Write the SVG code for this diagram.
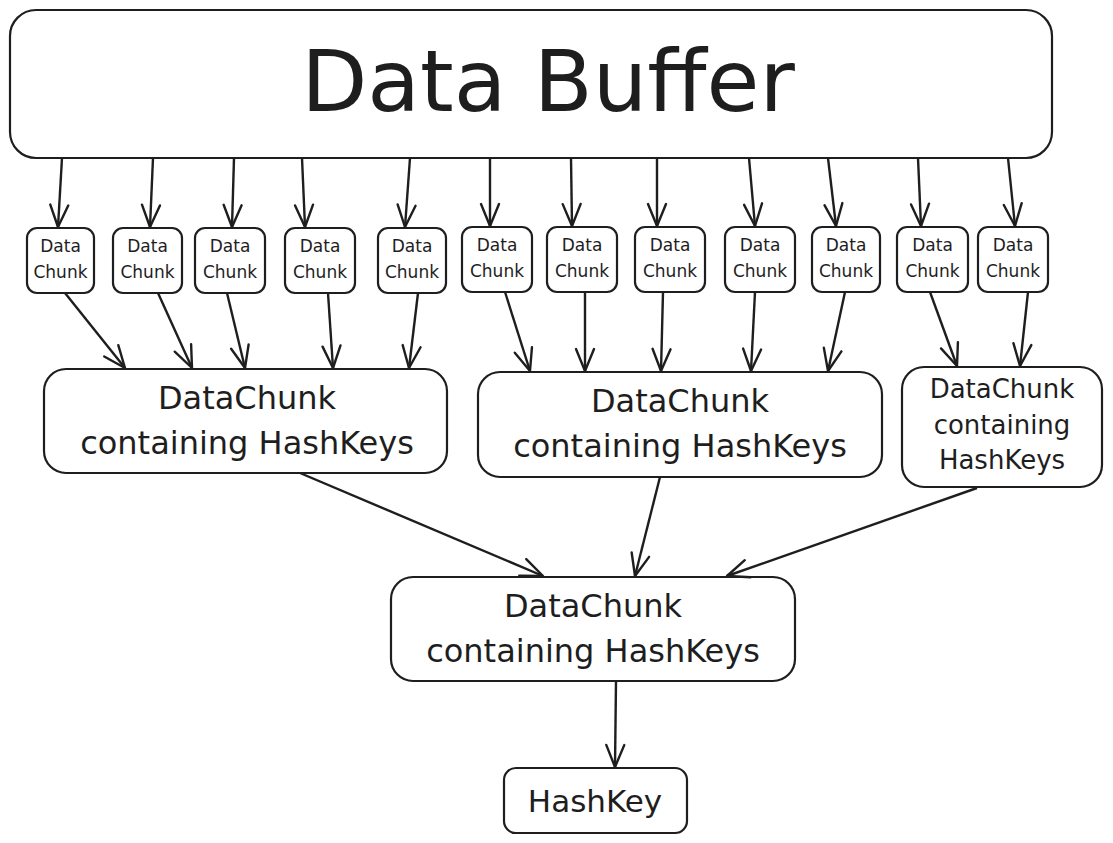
<svg xmlns="http://www.w3.org/2000/svg" width="1113" height="843" viewBox="0 0 1113 843">
<style>
.box{fill:#fff;stroke:#1e1e1e;stroke-width:2.2}
.t{font-family:"DejaVu Sans",sans-serif;fill:#1e1e1e;text-anchor:middle}
.s{font-size:17px}
.m{font-size:32px}
.c{font-size:26px}
.e{stroke:#1e1e1e;stroke-width:2.4;fill:none;marker-end:url(#ah)}
</style>
<defs>
<marker id="ah" markerUnits="userSpaceOnUse" markerWidth="30" markerHeight="24" refX="22" refY="10" orient="auto" viewBox="-2 -2 30 24">
<path d="M0,1 L22,10 L0,19" fill="none" stroke="#1e1e1e" stroke-width="2.4" stroke-linecap="round" stroke-linejoin="round"/>
</marker>
</defs>
<rect width="1113" height="843" fill="#fff"/>
<g id="buffer"><rect class="box" x="10" y="10" width="1042" height="148" rx="26"/><text class="t" x="548" y="111" font-size="86">Data Buffer</text></g>
<g id="chunk1"><rect class="box" x="27" y="228" width="67" height="65" rx="10"/><text class="t s" x="60.5" y="252">Data</text><text class="t s" x="60.5" y="278">Chunk</text></g>
<g id="chunk2"><rect class="box" x="113" y="228" width="69" height="65" rx="10"/><text class="t s" x="147.5" y="252">Data</text><text class="t s" x="147.5" y="278">Chunk</text></g>
<g id="chunk3"><rect class="box" x="195" y="228" width="70" height="65" rx="10"/><text class="t s" x="230" y="252">Data</text><text class="t s" x="230" y="278">Chunk</text></g>
<g id="chunk4"><rect class="box" x="285" y="228" width="70" height="65" rx="10"/><text class="t s" x="320" y="252">Data</text><text class="t s" x="320" y="278">Chunk</text></g>
<g id="chunk5"><rect class="box" x="378" y="228" width="68" height="65" rx="10"/><text class="t s" x="412" y="252">Data</text><text class="t s" x="412" y="278">Chunk</text></g>
<g id="chunk6"><rect class="box" x="462" y="227" width="70" height="65" rx="10"/><text class="t s" x="497" y="251">Data</text><text class="t s" x="497" y="277">Chunk</text></g>
<g id="chunk7"><rect class="box" x="547" y="227" width="70" height="65" rx="10"/><text class="t s" x="582" y="251">Data</text><text class="t s" x="582" y="277">Chunk</text></g>
<g id="chunk8"><rect class="box" x="635" y="227" width="70" height="65" rx="10"/><text class="t s" x="670" y="251">Data</text><text class="t s" x="670" y="277">Chunk</text></g>
<g id="chunk9"><rect class="box" x="725" y="227" width="70" height="65" rx="10"/><text class="t s" x="760" y="251">Data</text><text class="t s" x="760" y="277">Chunk</text></g>
<g id="chunk10"><rect class="box" x="812" y="227" width="68" height="65" rx="10"/><text class="t s" x="846" y="251">Data</text><text class="t s" x="846" y="277">Chunk</text></g>
<g id="chunk11"><rect class="box" x="897" y="227" width="71" height="65" rx="10"/><text class="t s" x="932.5" y="251">Data</text><text class="t s" x="932.5" y="277">Chunk</text></g>
<g id="chunk12"><rect class="box" x="978" y="227" width="70" height="65" rx="10"/><text class="t s" x="1013" y="251">Data</text><text class="t s" x="1013" y="277">Chunk</text></g>
<g id="groupA"><rect class="box" x="44" y="369" width="403" height="104" rx="22"/><text class="t m" x="247" y="409">DataChunk</text><text class="t m" x="247" y="454">containing HashKeys</text></g>
<g id="groupB"><rect class="box" x="478" y="372" width="404" height="105" rx="22"/><text class="t m" x="680" y="412">DataChunk</text><text class="t m" x="680" y="457">containing HashKeys</text></g>
<g id="groupC"><rect class="box" x="902" y="367" width="200" height="120" rx="22"/><text class="t c" x="1002" y="398">DataChunk</text><text class="t c" x="1002" y="434">containing</text><text class="t c" x="1002" y="469">HashKeys</text></g>
<g id="combined"><rect class="box" x="391" y="577" width="404" height="104" rx="22"/><text class="t m" x="593" y="617">DataChunk</text><text class="t m" x="593" y="662">containing HashKeys</text></g>
<g id="hashkey"><rect class="box" x="504" y="768" width="183" height="65" rx="12"/><text class="t" x="595" y="812" font-size="31">HashKey</text></g>
<g id="connectors">
<path class="e" d="M62,158 L58,227"/>
<path class="e" d="M153,158 L150,227"/>
<path class="e" d="M234,158 L232,227"/>
<path class="e" d="M302,158 L305,227"/>
<path class="e" d="M410,158 L405,227"/>
<path class="e" d="M490,158 L490,226"/>
<path class="e" d="M571,158 L572,226"/>
<path class="e" d="M657,158 L657,226"/>
<path class="e" d="M749,158 L755,226"/>
<path class="e" d="M828,158 L836,226"/>
<path class="e" d="M918,158 L921,226"/>
<path class="e" d="M1008,158 L1015,226"/>
<path class="e" d="M65,293 L125,368"/>
<path class="e" d="M158,293 L192,368"/>
<path class="e" d="M227,293 L245,368"/>
<path class="e" d="M328,293 L333,368"/>
<path class="e" d="M418,293 L409,368"/>
<path class="e" d="M505,292 L530,371"/>
<path class="e" d="M585,292 L585,371"/>
<path class="e" d="M663,292 L661,371"/>
<path class="e" d="M755,292 L751,371"/>
<path class="e" d="M845,292 L828,371"/>
<path class="e" d="M930,292 L957,366"/>
<path class="e" d="M1028,292 L1020,366"/>
<path class="e" d="M300,473 L543,576"/>
<path class="e" d="M660,477 L635,576"/>
<path class="e" d="M977,488 L727,576"/>
<path class="e" d="M616,681 L615,767"/>
</g>
</svg>
